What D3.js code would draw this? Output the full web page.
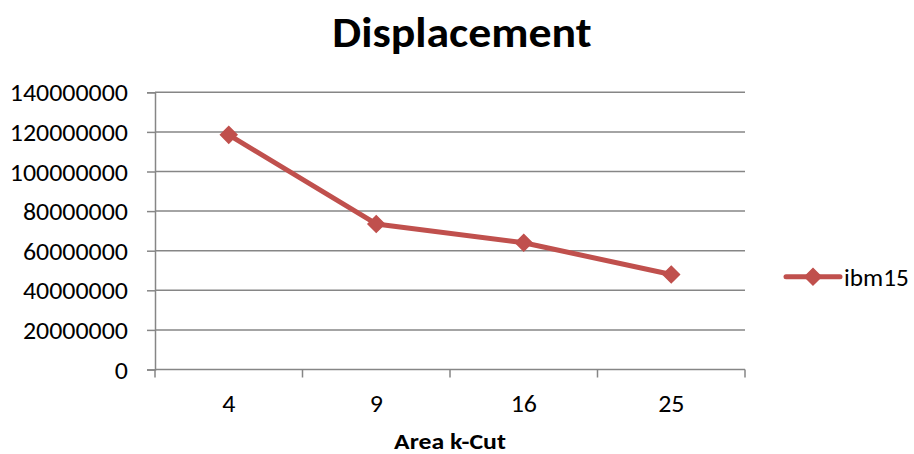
<!DOCTYPE html>
<html>
<head>
<meta charset="utf-8">
<script src="https://cdn.jsdelivr.net/npm/d3@7"></script>
<style>
  html, body { margin: 0; padding: 0; background: #fff; }
  svg { display: block; }
  text { font-family: Calibri, Carlito, Lato, "Open Sans", sans-serif; fill: #000; }
</style>
</head>
<body>
<svg id="chart" width="914" height="454"></svg>
<script>
// Chart data
const categories = ["4", "9", "16", "25"];
const seriesName = "ibm15";
const seriesValues = [118500000, 73500000, 64000000, 48000000];
const yTicks = [0, 20000000, 40000000, 60000000, 80000000, 100000000, 120000000, 140000000];

const svg = d3.select("#chart");
const plot = { left: 155, right: 745, top: 92.3, bottom: 369.5 };
const lineColor = "#C0504D";
const gridColor = "#868686";

// Widen glyphs slightly so the fallback face fills the same width as Calibri
function widen(sel, k) {
  sel.each(function () {
    const w = this.getComputedTextLength();
    d3.select(this).attr("textLength", w * k).attr("lengthAdjust", "spacingAndGlyphs");
  });
}

const x = d3.scaleBand().domain(categories).range([plot.left, plot.right]).padding(0);
const y = d3.scaleLinear().domain([0, 140000000]).range([plot.bottom, plot.top]);

// Title
svg.append("text")
  .attr("x", 462).attr("y", 46.5)
  .attr("text-anchor", "middle")
  .style("font-size", "42px").style("font-weight", "bold")
  .text("Displacement")
  .call(widen, 1.09);

// Horizontal gridlines
svg.append("g")
  .selectAll("line")
  .data(yTicks.filter(d => d > 0))
  .join("line")
  .attr("x1", plot.left).attr("x2", plot.right)
  .attr("y1", d => y(d)).attr("y2", d => y(d))
  .attr("stroke", gridColor).attr("stroke-width", 1.5);

// Y axis
const yAxis = svg.append("g")
  .attr("transform", `translate(${plot.left},0)`)
  .call(d3.axisLeft(y).tickValues(yTicks).tickFormat(d3.format("d")).tickSize(8).tickPadding(19));
yAxis.select(".domain").attr("stroke", gridColor).attr("stroke-width", 1.5);
yAxis.selectAll(".tick line").attr("stroke", gridColor).attr("stroke-width", 1.5);
yAxis.selectAll(".tick text")
  .style("font-size", "24px")
  .attr("dy", "0.36em")
  .call(widen, 1.08);

// X axis: labels at category centres
const xAxis = svg.append("g")
  .attr("transform", `translate(0,${plot.bottom})`)
  .call(d3.axisBottom(x).tickSize(0).tickPadding(0));
xAxis.select(".domain").remove();
xAxis.selectAll(".tick text")
  .attr("y", 411.7 - plot.bottom).attr("dy", null)
  .style("font-size", "24px")
  .call(widen, 1.08);

// X axis line and boundary ticks between categories
const edges = categories.map(c => x(c)).concat([x(categories[categories.length - 1]) + x.bandwidth()]);
svg.append("line")
  .attr("x1", plot.left).attr("x2", plot.right)
  .attr("y1", plot.bottom).attr("y2", plot.bottom)
  .attr("stroke", gridColor).attr("stroke-width", 1.5);
svg.append("g")
  .selectAll("line")
  .data(edges)
  .join("line")
  .attr("x1", d => d).attr("x2", d => d)
  .attr("y1", plot.bottom).attr("y2", plot.bottom + 8)
  .attr("stroke", gridColor).attr("stroke-width", 1.5);

// X axis title
svg.append("text")
  .attr("x", 450).attr("y", 449)
  .attr("text-anchor", "middle")
  .style("font-size", "23px").style("font-weight", "bold")
  .text("Area k-Cut")
  .call(widen, 1.12);

// Series line
const cx = c => x(c) + x.bandwidth() / 2;
const data = categories.map((c, i) => ({ c, v: seriesValues[i] }));
svg.append("path")
  .datum(data)
  .attr("fill", "none")
  .attr("stroke", lineColor)
  .attr("stroke-width", 5)
  .attr("stroke-linejoin", "round")
  .attr("d", d3.line().x(d => cx(d.c)).y(d => y(d.v)));

// Diamond markers
const marker = d3.symbol().type(d3.symbolSquare).size(135);
svg.append("g")
  .selectAll("path")
  .data(data)
  .join("path")
  .attr("transform", d => `translate(${cx(d.c)},${y(d.v)}) rotate(45)`)
  .attr("d", marker)
  .attr("fill", lineColor)
  .attr("stroke", lineColor).attr("stroke-width", 1.5);

// Legend
const lg = svg.append("g").attr("transform", "translate(786,276.7)");
lg.append("line")
  .attr("x1", 0).attr("x2", 54).attr("y1", 0).attr("y2", 0)
  .attr("stroke", lineColor).attr("stroke-width", 5).attr("stroke-linecap", "round");
lg.append("path")
  .attr("transform", "translate(27,0) rotate(45)")
  .attr("d", marker)
  .attr("fill", lineColor).attr("stroke", lineColor).attr("stroke-width", 1.5);
lg.append("text")
  .attr("x", 58).attr("y", 9)
  .style("font-size", "24px")
  .text(seriesName)
  .call(widen, 1.05);
</script>
</body>
</html>
